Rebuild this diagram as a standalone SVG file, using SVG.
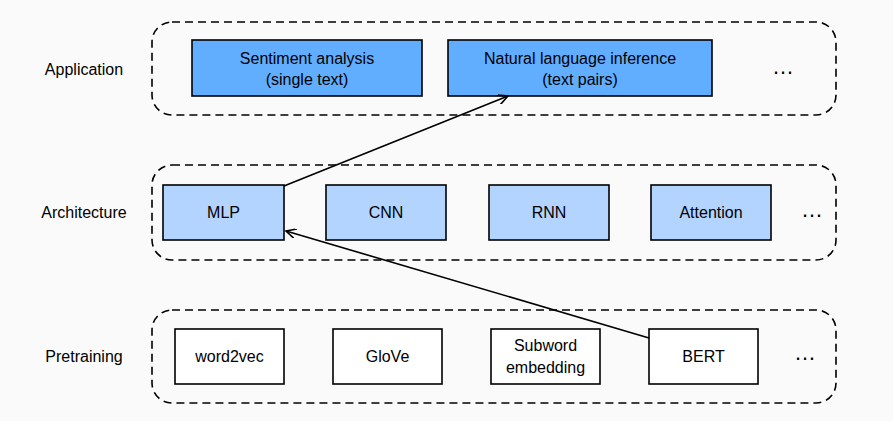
<svg xmlns="http://www.w3.org/2000/svg" width="893" height="421" viewBox="0 0 893 421">
<style>
text{font-family:"Liberation Sans",Arial,sans-serif;font-size:16px;fill:#000;text-anchor:middle;dominant-baseline:central}
.grp{fill:none;stroke:#000;stroke-width:1.6;stroke-dasharray:8 5}
.app{fill:#61adff;stroke:#000;stroke-width:1.6}
.arc{fill:#b3d4ff;stroke:#000;stroke-width:1.6}
.pre{fill:#fff;stroke:#000;stroke-width:1.6}
.dots{font-size:22px}
.edge{stroke:#000;stroke-width:1.6;fill:none;marker-end:url(#ah)}
</style>
<defs><marker id="ah" markerWidth="12" markerHeight="10" refX="10" refY="5" orient="auto" markerUnits="userSpaceOnUse"><path d="M0,0 L10,5 L0,10" fill="none" stroke="#000" stroke-width="1.6"/></marker></defs>
<rect width="893" height="421" fill="#fafafa"/>
<g id="application">
<rect class="grp" x="152" y="22" width="684" height="93" rx="20"/>
<text x="84" y="69">Application</text>
<text class="dots" x="783" y="66">…</text>
</g>
<g id="sentiment"><rect class="app" x="192" y="40" width="230" height="56"/><text x="307" y="58">Sentiment analysis</text><text x="307" y="79">(single text)</text></g>
<g id="nli"><rect class="app" x="448" y="40" width="264" height="56"/><text x="580" y="58">Natural language inference</text><text x="580" y="79">(text pairs)</text></g>
<g id="architecture">
<rect class="grp" x="152" y="165" width="684" height="95" rx="20"/>
<text x="84" y="212">Architecture</text>
<text class="dots" x="812" y="209">…</text>
</g>
<g id="mlp"><rect class="arc" x="163" y="185" width="121" height="55"/><text x="223.5" y="212">MLP</text></g>
<g id="cnn"><rect class="arc" x="326" y="185" width="120" height="55"/><text x="386" y="212">CNN</text></g>
<g id="rnn"><rect class="arc" x="489" y="185" width="120" height="55"/><text x="549" y="212">RNN</text></g>
<g id="attention"><rect class="arc" x="651" y="185" width="120" height="55"/><text x="711" y="212">Attention</text></g>
<g id="pretraining">
<rect class="grp" x="152" y="310" width="684" height="93" rx="20"/>
<text x="84" y="356">Pretraining</text>
<text class="dots" x="805" y="352">…</text>
</g>
<g id="word2vec"><rect class="pre" x="175" y="329" width="109" height="55"/><text x="229.5" y="356">word2vec</text></g>
<g id="glove"><rect class="pre" x="333" y="329" width="109" height="55"/><text x="387.5" y="356">GloVe</text></g>
<g id="subword"><rect class="pre" x="491" y="329" width="109" height="55"/><text x="545.5" y="345">Subword</text><text x="545.5" y="367">embedding</text></g>
<g id="bert"><rect class="pre" x="649" y="329" width="109" height="55"/><text x="703.5" y="356">BERT</text></g>
<g id="connectors">
<path class="edge" d="M284,186 L508,96"/>
<path class="edge" d="M649,338 L286,231"/>
</g>
</svg>
